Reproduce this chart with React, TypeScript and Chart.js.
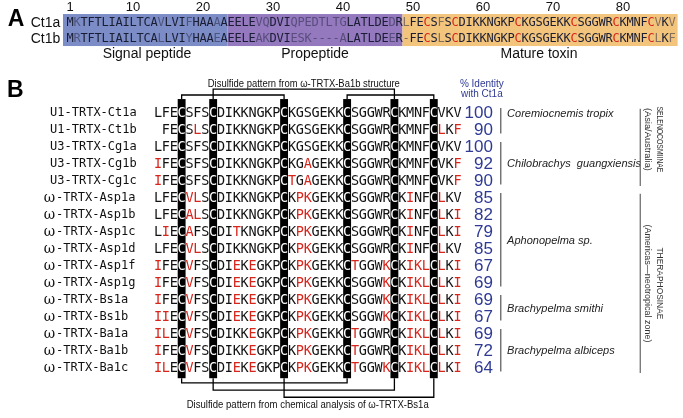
import React, { useEffect, useRef } from 'react';
import { Chart, registerables } from 'chart.js';

Chart.register(...registerables);

// ---------- Panel A data ----------
const positionTicks = [1, 10, 20, 30, 40, 50, 60, 70, 80];
const precursorNames = ['Ct1a', 'Ct1b'];
const precursorSeqs = [
  'MKTFTLIAILTCAVLVIFHAAAAEELEVQDVIQPEDTLTGLATLDEDRLFECSFSCDIKKNGKPCKGSGEKKCSGGWRCKMNFCVKV',
  'MRTFTLIAILTCALLVIYHAAEAEELEAKDVIESK----ALATLDEER-FECSLSCDIKKNGKPCKGSGEKKCSGGWRCKMNFCLKF',
];
const regionNames = ['Signal peptide', 'Propeptide', 'Mature toxin'];
const regionStarts = [1, 24, 49];
const regionEnds = [23, 48, 87];

// ---------- Panel B data ----------
const toxinNames = [
  'U1-TRTX-Ct1a', 'U1-TRTX-Ct1b', 'U3-TRTX-Cg1a', 'U3-TRTX-Cg1b', 'U3-TRTX-Cg1c',
  'ω-TRTX-Asp1a', 'ω-TRTX-Asp1b', 'ω-TRTX-Asp1c', 'ω-TRTX-Asp1d', 'ω-TRTX-Asp1f',
  'ω-TRTX-Asp1g', 'ω-TRTX-Bs1a', 'ω-TRTX-Bs1b', 'ω-TRTX-Ba1a', 'ω-TRTX-Ba1b', 'ω-TRTX-Ba1c',
];
const toxinSeqs = [
  'LFECSFSCDIKKNGKPCKGSGEKKCSGGWRCKMNFCVKV',
  ' FECSLSCDIKKNGKPCKGSGEKKCSGGWRCKMNFCLKF',
  'LFECSFSCDIKKNGKPCKGSGEKKCSGGWRCKMNFCVKV',
  'IFECSFSCDIKKNGKPCKGAGEKKCSGGWRCKMNFCVKF',
  'IFECSFSCDIKKNGKPCTGAGEKKCSGGWRCKMNFCVKF',
  'LFECVLSCDIKKNGKPCKPKGEKKCSGGWRCKINFCLKV',
  'LFECALSCDIKKNGKPCKPKGEKKCSGGWRCKINFCLKI',
  'LIECAFSCDITKNGKPCKPKGEKKCSGGWRCKINFCLKI',
  'LFECVLSCDIKKNGKPCKPKGEKKCSGGWRCKINFCLKV',
  'IFECVFSCDIEKEGKPCKPKGEKKCTGGWKCKIKLCLKI',
  'IFECVFSCDIEKEGKPCKPKGEKKCSGGWKCKIKLCLKI',
  'IFECVFSCDIEKEGKPCKPKGEKKCSGGWKCKIKLCLKI',
  'IIECVFSCDIEKEGKPCKPKGEKKCSGGWKCKIKLCLKI',
  'ILECVFSCDIKKEGKPCKPKGEKKCTGGWRCKIKLCLKI',
  'IFECVFSCDIKKEGKPCKPKGEKKCTGGWRCKIKLCLKI',
  'ILECVFSCDIEKEGKPCKPKGEKKCTGGWKCKIKLCLKI',
];
const identityValues = [100, 90, 100, 92, 90, 85, 82, 79, 85, 67, 69, 69, 67, 69, 72, 64];
const cysteineColumns = [4, 8, 17, 25, 31, 36];
const speciesNames = [
  'Coremiocnemis tropix', 'Chilobrachys  guangxiensis', 'Aphonopelma sp.',
  'Brachypelma smithi', 'Brachypelma albiceps',
];
const speciesFirstRows = [1, 3, 6, 12, 14];
const speciesLastRows = [2, 5, 11, 13, 16];
const subfamilyNames = ['SELENOCOSMIINAE', 'THERAPHOSINAE'];
const subfamilyRegions = ['(Asia/Australia)', '(Americas\u2014neotropical zone)'];
const subfamilyFirstRows = [1, 6];
const subfamilyLastRows = [5, 16];
// disulfide bonds, as pairs of cysteine numbers (1..6)
const structureBondFrom = [1, 2, 4];
const structureBondTo = [3, 5, 6];
const chemicalBondFrom = [1, 2, 3];
const chemicalBondTo = [4, 5, 6];
const structureCaption = 'Disulfide pattern from ω-TRTX-Ba1b structure';
const chemicalCaption = 'Disulfide pattern from chemical analysis of ω-TRTX-Bs1a';

// ---------- styles ----------
const REGION_COLORS = ['#7b8cc6', '#9479bf', '#f2c47c'];
const SANS = '"Liberation Sans", Arial, sans-serif';
const MONO = '"DejaVu Sans Mono", monospace';
const NAVY = '#2f3a94';
const RED = '#d8251c';

const pointsA = precursorSeqs.flatMap((s, r) =>
  s.split('').map((ch, i) => ({ x: i + 1, y: r + 1, ch, row: r, col: i }))
);
const pointsB = toxinSeqs.flatMap((s, r) =>
  s.split('').map((ch, i) => ({ x: i + 1, y: r + 1, ch, row: r, col: i }))
);

const alignmentPlugin = {
  id: 'alignment',
  afterDraw(chart: any) {
    const ctx: CanvasRenderingContext2D = chart.ctx;
    const xA = (v: number) => chart.scales.xA.getPixelForValue(v);
    const yA = (v: number) => chart.scales.yA.getPixelForValue(v);
    const xB = (v: number) => chart.scales.xB.getPixelForValue(v);
    const yB = (v: number) => chart.scales.yB.getPixelForValue(v);
    ctx.save();

    // ===== Panel A =====
    ctx.fillStyle = '#000';
    ctx.font = `bold 23px ${SANS}`;
    ctx.textAlign = 'center';
    ctx.textBaseline = 'middle';
    ctx.fillText('A', xA(-6.7), yA(0.82));

    ctx.font = `13px ${SANS}`;
    ctx.fillStyle = '#111';
    positionTicks.forEach((t) => ctx.fillText(String(t), xA(t), yA(0.05)));

    regionNames.forEach((_, k) => {
      const l = xA(regionStarts[k] - 0.5 - (k === 0 ? 0.5 : 0));
      const r = xA(regionEnds[k] + 0.5 + (k === regionNames.length - 1 ? 0.3 : 0));
      const t = yA(0.44), b = yA(2.44);
      ctx.fillStyle = REGION_COLORS[k];
      ctx.fillRect(l, t, r - l, b - t);
    });

    ctx.font = `14px ${SANS}`;
    ctx.fillStyle = '#111';
    ctx.textAlign = 'right';
    precursorNames.forEach((n, r) => ctx.fillText(n, xA(-0.4), yA(r + 1)));

    ctx.textAlign = 'center';
    ctx.font = `12px ${MONO}`;
    const metaA = chart.getDatasetMeta(0);
    metaA.data.forEach((el: any, i: number) => {
      const p = pointsA[i];
      const other = precursorSeqs[1 - p.row][p.col];
      let color = '#1a1d33';
      if (p.ch === 'C' && p.col + 1 >= regionStarts[2]) color = RED;
      else if (other !== p.ch) color = 'rgba(40,40,70,0.55)';
      ctx.fillStyle = color;
      ctx.fillText(p.ch, el.x, el.y);
    });

    ctx.font = `14px ${SANS}`;
    ctx.fillStyle = '#111';
    regionNames.forEach((n, k) =>
      ctx.fillText(n, xA((regionStarts[k] + regionEnds[k]) / 2), yA(2.95))
    );

    // ===== Panel B =====
    ctx.fillStyle = '#000';
    ctx.font = `bold 23px ${SANS}`;
    ctx.fillText('B', xB(-17.1), yB(-0.33));

    // cysteine columns
    const barTop = yB(0.18), barBot = yB(16.6);
    cysteineColumns.forEach((c) => {
      const l = xB(c - 0.5), r = xB(c + 0.5);
      ctx.fillRect(l, barTop, r - l, barBot - barTop);
    });

    // disulfide brackets
    ctx.strokeStyle = '#000';
    ctx.lineWidth = 1.3;
    const topLevels = [yB(-0.06), yB(-0.41)];
    const topLevelOf = [0, 1, 0];
    structureBondFrom.forEach((a, k) => {
      const b = structureBondTo[k];
      const y = topLevels[topLevelOf[k]];
      const xa = xB(cysteineColumns[a - 1]), xb = xB(cysteineColumns[b - 1]);
      ctx.beginPath();
      ctx.moveTo(xa, barTop);
      ctx.lineTo(xa, y);
      ctx.lineTo(xb, y);
      ctx.lineTo(xb, barTop);
      ctx.stroke();
    });
    const botLevels = [yB(16.88), yB(17.3), yB(17.72)];
    chemicalBondFrom.forEach((a, k) => {
      const b = chemicalBondTo[k];
      const y = botLevels[k];
      const xa = xB(cysteineColumns[a - 1]), xb = xB(cysteineColumns[b - 1]);
      ctx.beginPath();
      ctx.moveTo(xa, barBot);
      ctx.lineTo(xa, y);
      ctx.lineTo(xb, y);
      ctx.lineTo(xb, barBot);
      ctx.stroke();
    });

    ctx.fillStyle = '#111';
    ctx.font = `10.5px ${SANS}`;
    ctx.fillText(
      structureCaption,
      xB((cysteineColumns[structureBondFrom[1] - 1] + cysteineColumns[structureBondTo[1] - 1]) / 2),
      yB(-0.7),
      192
    );
    ctx.fillText(
      chemicalCaption,
      xB((cysteineColumns[0] + cysteineColumns[5]) / 2),
      yB(18.2),
      242
    );

    // residues
    ctx.font = `13.5px ${MONO}`;
    const metaB = chart.getDatasetMeta(1);
    metaB.data.forEach((el: any, i: number) => {
      const p = pointsB[i];
      if (p.ch === ' ') return;
      let color = '#111';
      if (cysteineColumns.includes(p.col + 1)) color = '#fff';
      else if (toxinSeqs[0][p.col] !== p.ch) color = RED;
      ctx.fillStyle = color;
      ctx.fillText(p.ch, el.x, el.y + 0.5);
    });

    // names
    ctx.textAlign = 'left';
    ctx.fillStyle = '#111';
    toxinNames.forEach((n, r) => {
      const x0 = xB(-12.7), y = yB(r + 1);
      if (n.startsWith('ω')) {
        ctx.font = `14px "DejaVu Serif", serif`;
        ctx.textAlign = 'right';
        ctx.fillText('ω', x0 + 5, y);
        ctx.textAlign = 'left';
        ctx.font = `12px ${MONO}`;
        ctx.fillText(n.slice(1), x0 + 6, y);
      } else {
        ctx.font = `12px ${MONO}`;
        ctx.fillText(n, x0, y);
      }
    });

    // identity header and values
    ctx.fillStyle = NAVY;
    ctx.textAlign = 'center';
    ctx.font = `10px ${SANS}`;
    ctx.fillText('% Identity', xB(42.1), yB(-0.71));
    ctx.fillText('with Ct1a', xB(42.1), yB(-0.12));
    ctx.textAlign = 'right';
    ctx.font = `17px ${SANS}`;
    identityValues.forEach((v, r) => ctx.fillText(String(v), xB(43.5), yB(r + 1)));

    // species brackets
    ctx.strokeStyle = '#555';
    ctx.lineWidth = 1.2;
    ctx.fillStyle = '#222';
    ctx.textAlign = 'left';
    ctx.font = `italic 11px ${SANS}`;
    const labelShift = [-0.45, 0, 0, 0, 0];
    speciesNames.forEach((s, k) => {
      const x = xB(44.5);
      ctx.beginPath();
      ctx.moveTo(x, yB(speciesFirstRows[k] - 0.3));
      ctx.lineTo(x, yB(speciesLastRows[k] + 0.2));
      ctx.stroke();
      const mid = (speciesFirstRows[k] + speciesLastRows[k]) / 2 + labelShift[k];
      ctx.fillText(s, xB(45.3), yB(mid));
    });

    // subfamily brackets
    ctx.strokeStyle = '#666';
    subfamilyNames.forEach((s, k) => {
      const x = xB(62.2);
      const y0 = yB(subfamilyFirstRows[k] - 0.25), y1 = yB(subfamilyLastRows[k] + 0.3);
      ctx.beginPath();
      ctx.moveTo(x, y0);
      ctx.lineTo(x, y1);
      ctx.stroke();
      const cy = (y0 + y1) / 2 - (k === 0 ? 8 : 0);
      ctx.save();
      ctx.translate(xB(64.6), cy);
      ctx.rotate(Math.PI / 2);
      ctx.textAlign = 'center';
      ctx.fillStyle = '#333';
      ctx.font = `9.5px ${SANS}`;
      ctx.fillText(s, 0, 0, k === 0 ? 66 : 72);
      ctx.restore();
      ctx.save();
      ctx.translate(xB(63.1), cy);
      ctx.rotate(Math.PI / 2);
      ctx.textAlign = 'center';
      ctx.fillStyle = '#333';
      ctx.font = `9.5px ${SANS}`;
      ctx.fillText(subfamilyRegions[k], 0, 0, k === 0 ? 63 : 118);
      ctx.restore();
    });

    ctx.restore();
  },
};

export default function App() {
  const ref = useRef<HTMLCanvasElement>(null);
  useEffect(() => {
    document.body.style.margin = '0';
    const W = 683, H = 418;
    const pitchA = 7.0, pitchB = 7.88;
    const minXA = 1 - 70 / pitchA;
    const minYA = 1 - 23 / 16;
    const minXB = 1 - 158 / pitchB;
    const minYB = 1 - 113 / 17;
    const chart = new Chart(ref.current as HTMLCanvasElement, {
      type: 'scatter',
      data: {
        datasets: [
          { data: pointsA as any, xAxisID: 'xA', yAxisID: 'yA', pointRadius: 0, pointHitRadius: 0 },
          { data: pointsB as any, xAxisID: 'xB', yAxisID: 'yB', pointRadius: 0, pointHitRadius: 0 },
        ],
      },
      options: {
        animation: false,
        responsive: false,
        devicePixelRatio: 1,
        events: [],
        layout: { padding: 0 },
        plugins: { legend: { display: false }, tooltip: { enabled: false } },
        scales: {
          xA: { type: 'linear', axis: 'x', display: false, min: minXA, max: minXA + W / pitchA },
          yA: { type: 'linear', axis: 'y', display: false, reverse: true, min: minYA, max: minYA + H / 16 },
          xB: { type: 'linear', axis: 'x', display: false, min: minXB, max: minXB + W / pitchB },
          yB: { type: 'linear', axis: 'y', display: false, reverse: true, min: minYB, max: minYB + H / 17 },
        },
      } as any,
      plugins: [alignmentPlugin],
    });
    return () => chart.destroy();
  }, []);
  return (
    <div style={{ width: 683, height: 418, background: '#fff' }}>
      <canvas ref={ref} width={683} height={418} style={{ display: 'block', width: 683, height: 418 }} />
    </div>
  );
}
